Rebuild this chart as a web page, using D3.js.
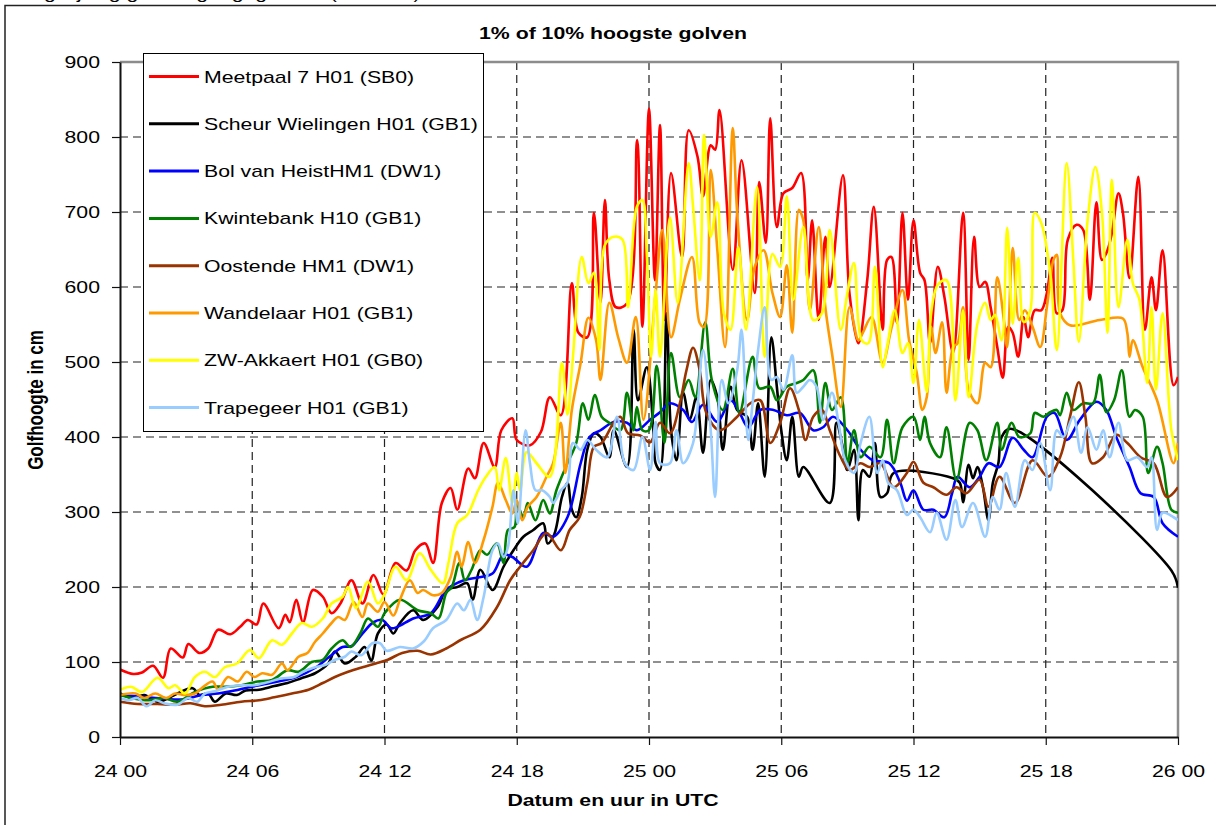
<!DOCTYPE html>
<html>
<head>
<meta charset="utf-8">
<script src="https://cdn.jsdelivr.net/npm/d3@7"></script>
<style>
  body { margin: 0; background: #fff; }
  text { font-family: "Liberation Sans", Arial, sans-serif; }
</style>
</head>
<body>
<div id="chart"></div>
<script>
// Data: [uren sinds 24 00, golfhoogte in cm]
var meetpaal7 = [[0,90],[0.6,84],[1,86],[1.5,95],[1.95,79],[2.3,118],[2.85,106],[3.1,124],[3.6,112],[4,118],[4.45,143],[5,137],[5.45,147],[5.8,156],[6.2,150],[6.5,178],[7.2,145],[7.5,163],[7.7,153],[8,183],[8.3,153],[8.75,196],[9.2,187],[9.6,165],[10,178],[10.5,209],[11,178],[11.5,216],[11.95,190],[12.5,232],[13,222],[13.4,249],[13.85,258],[14.2,232],[14.6,312],[15,332],[15.3,303],[15.8,358],[16.1,345],[16.5,392],[17,360],[17.3,409],[17.8,425],[18,396],[18.6,389],[19.1,407],[19.5,453],[20,429],[20.5,605],[20.8,539],[21.2,533],[21.5,699],[21.8,579],[22,716],[22.2,609],[22.5,573],[23,578],[23.46,796],[23.7,547],[24,838],[24.27,609],[24.5,816],[24.7,556],[25,752],[25.5,640],[25.8,809],[26.2,774],[26.45,721],[26.8,789],[27,783],[27.2,836],[27.8,623],[28.2,769],[28.8,592],[29,740],[29.3,659],[29.5,825],[29.8,680],[30.1,725],[30.5,732],[30.9,752],[31.2,609],[31.4,689],[31.7,556],[32,667],[32.2,600],[32.8,749],[33.1,590],[33.5,525],[33.9,609],[34.2,707],[34.6,543],[34.8,636],[35,640],[35.25,552],[35.5,699],[35.75,583],[36,689],[36.3,619],[36.5,609],[36.75,525],[37.1,627],[37.4,587],[37.8,512],[38.25,699],[38.5,503],[38.75,667],[39,600],[39.25,607],[39.5,573],[39.8,520],[40.05,479],[40.3,547],[40.5,539],[40.75,507],[41,560],[41.2,533],[41.5,569],[41.8,569],[42.05,592],[42.3,639],[42.5,565],[42.75,569],[43,663],[43.4,683],[43.7,676],[44,583],[44.3,713],[44.55,636],[44.8,649],[45,672],[45.3,725],[45.5,699],[45.8,612],[46.2,747],[46.5,543],[46.8,613],[47,569],[47.3,649],[47.8,469],[48,480]];

var scheurWielingen = [[0,58],[0.6,52],[1.1,56],[1.7,47],[2.2,52],[2.6,58],[3.3,65],[3.6,56],[4,58],[4.3,47],[4.8,58],[5.3,56],[5.7,62],[6.3,63],[7,68],[7.6,72],[8.2,78],[8.85,85],[9.45,98],[9.75,114],[10.2,98],[10.7,107],[11.1,120],[11.4,102],[11.7,138],[12.1,150],[12.4,138],[12.7,152],[13.3,169],[13.75,156],[14.4,173],[14.8,196],[15.3,200],[15.75,205],[16,183],[16.35,223],[16.9,196],[17.4,227],[17.85,249],[18.3,267],[18.75,276],[19.2,285],[19.4,258],[19.7,270],[20.05,320],[20.3,339],[20.5,303],[20.7,293],[20.95,320],[21.2,383],[21.5,405],[21.8,400],[22.2,373],[22.4,409],[23,360],[23.3,543],[23.5,449],[23.9,493],[24.2,409],[24.3,365],[24.5,356],[24.8,565],[25,409],[25.25,369],[25.55,459],[25.85,423],[26.15,453],[26.45,379],[26.8,476],[27.1,453],[27.35,383],[27.7,467],[28,436],[28.45,427],[28.7,383],[28.95,445],[29.25,347],[29.55,533],[29.8,467],[30,409],[30.25,369],[30.5,427],[30.8,347],[31,360],[32.2,312],[32.5,419],[32.75,392],[33,356],[33.3,383],[33.5,289],[33.7,356],[34,347],[34.25,392],[34.5,320],[34.8,325],[35.1,352],[37.8,345],[38.1,339],[38.25,313],[38.5,363],[38.7,345],[38.9,360],[39.15,333],[39.4,289],[39.6,339],[39.85,365],[40,400],[40.4,411],[47.7,222],[48,199]];

var bolVanHeist = [[0,56],[1.3,53],[2.8,50],[3.7,56],[4.45,58],[5.2,62],[5.8,66],[7,73],[8,80],[8.9,93],[9.5,107],[10.1,120],[10.5,121],[11,138],[11.5,153],[11.9,156],[12.3,145],[12.6,147],[13.3,158],[14.1,165],[14.8,196],[15.6,209],[16.3,213],[16.9,218],[17.4,243],[17.8,240],[18.45,227],[19.2,272],[19.65,267],[20.3,293],[20.9,365],[21.3,400],[21.8,409],[22.4,420],[23,419],[23.45,409],[24.05,423],[24.5,433],[24.95,445],[25.55,436],[25.95,420],[26.45,443],[27.1,420],[27.7,449],[28.1,433],[28.5,413],[29.05,436],[29.65,436],[30.25,429],[30.85,432],[31.45,409],[31.9,413],[32.35,427],[33,409],[33.6,383],[34.15,369],[34.9,365],[35.4,339],[35.7,315],[36,329],[36.45,303],[36.9,303],[37.4,293],[37.75,325],[38,347],[38.55,333],[39,347],[39.4,365],[39.9,360],[40.5,399],[41,383],[41.4,373],[42.05,427],[42.4,432],[42.95,396],[43.55,423],[44.3,447],[44.75,436],[45.2,400],[45.8,360],[46.3,325],[46.9,320],[47.3,285],[48,267]];

var kwintebank = [[0,56],[0.5,52],[1.3,49],[2,52],[2.6,47],[3.4,60],[4.2,67],[4.75,67],[5.5,69],[6.25,74],[6.9,76],[7.6,89],[8.1,87],[8.7,100],[9.2,103],[9.6,118],[10.1,129],[10.45,120],[10.9,138],[11.25,158],[11.7,147],[12,165],[12.7,183],[13.5,169],[14.1,165],[14.45,158],[14.8,192],[15.05,200],[15.4,232],[15.65,209],[15.95,223],[16.35,249],[16.65,243],[17.1,258],[17.4,232],[17.6,276],[17.9,280],[18,312],[18.3,293],[18.5,312],[18.85,289],[19.2,316],[19.5,298],[19.8,329],[20.3,365],[20.7,392],[21,445],[21.25,423],[21.55,456],[21.85,427],[22.2,419],[22.7,409],[23,459],[23.3,409],[23.45,440],[23.7,409],[24,409],[24.35,495],[24.7,392],[25,512],[25.4,453],[25.8,476],[26.1,453],[26.55,553],[26.85,476],[27.35,436],[27.8,491],[28.1,432],[28.7,507],[29,465],[29.5,467],[29.8,449],[30.25,467],[30.7,472],[31,476],[31.45,489],[31.75,419],[32,472],[32.3,436],[32.7,453],[33,365],[33.3,409],[33.6,373],[34,387],[34.5,373],[34.8,423],[35.1,365],[35.5,413],[36,427],[36.3,396],[36.5,427],[36.75,392],[37.2,373],[37.5,413],[37.95,343],[38.55,419],[38.9,409],[39.3,369],[39.8,419],[40,383],[40.45,419],[40.8,400],[41.3,405],[41.5,432],[41.9,427],[42.2,433],[42.5,436],[42.65,429],[42.95,459],[43.25,436],[43.7,445],[44.15,445],[44.45,483],[44.75,433],[45.1,449],[45.45,489],[45.8,427],[46.05,436],[46.4,427],[46.65,352],[47.05,387],[47.3,365],[47.7,303],[48,299]];

var oostende = [[0,47],[0.8,44],[1.7,44],[2.5,43],[3.2,45],[3.85,41],[4.6,43],[5.5,47],[6.3,49],[7,53],[7.8,58],[8.55,63],[9.2,72],[9.75,80],[10.35,87],[11,93],[11.6,98],[12.15,103],[12.8,112],[13.5,115],[14.1,110],[14.8,118],[15.5,130],[16.35,143],[17.1,173],[17.7,209],[18.15,227],[18.75,249],[19.35,272],[20,249],[20.4,276],[20.85,293],[21.2,339],[21.5,387],[21.85,392],[22.4,419],[22.7,427],[23.05,405],[23.6,402],[24.05,393],[24.5,419],[24.95,405],[25.4,445],[25.7,489],[26,519],[26.3,489],[26.6,432],[27.2,409],[28,427],[28.6,445],[29.05,449],[29.5,392],[29.95,419],[30.4,465],[30.8,436],[31.1,396],[31.45,427],[31.85,436],[32.2,409],[32.7,373],[33.1,356],[33.6,365],[34,360],[34.5,365],[35.1,333],[35.7,352],[36,367],[36.45,339],[36.9,333],[37.5,323],[37.95,333],[38.4,325],[39,343],[39.4,307],[39.9,347],[40.6,312],[41.4,369],[42.1,347],[42.65,373],[43.1,427],[43.5,473],[43.8,427],[44.1,365],[44.6,373],[45.2,403],[45.7,392],[46.3,373],[46.9,365],[47.5,320],[48,333]];

var wandelaar = [[0,56],[0.7,58],[1.1,52],[1.6,58],[2.1,52],[2.5,58],[2.95,56],[3.4,58],[3.7,65],[4.2,74],[4.45,63],[4.9,80],[5.35,74],[5.75,87],[6.1,80],[6.45,85],[6.9,83],[7.35,98],[7.6,89],[8.1,107],[8.5,112],[8.85,127],[9.2,138],[9.6,152],[9.9,160],[10.2,156],[10.6,180],[11,160],[11.25,178],[11.7,167],[12,180],[12.4,162],[12.7,183],[13.15,209],[13.5,192],[13.75,196],[14.2,189],[14.6,192],[15,213],[15.3,247],[15.5,227],[15.8,260],[16.1,232],[16.5,263],[16.9,307],[17.15,339],[17.5,316],[17.8,298],[18,316],[18.25,289],[18.5,307],[18.9,320],[19.35,347],[19.65,365],[20,419],[20.2,352],[20.5,436],[20.9,499],[21.25,559],[21.6,529],[21.8,476],[22.2,579],[22.6,533],[23,499],[23.4,560],[23.75,423],[24.3,592],[24.6,676],[25,533],[25.4,583],[25.95,640],[26.3,552],[26.5,547],[26.8,756],[27.1,649],[27.45,520],[27.8,812],[28,699],[28.45,556],[28.8,627],[29.2,649],[29.6,592],[29.95,560],[30.25,629],[30.5,539],[30.8,703],[31,689],[31.3,569],[31.7,680],[32,573],[32.3,512],[32.7,440],[33.1,573],[33.5,529],[33.7,539],[34.1,560],[34.6,499],[35,545],[35.5,596],[35.8,529],[36.15,485],[36.4,436],[36.6,453],[36.8,547],[37,512],[37.3,553],[37.5,459],[37.8,520],[38,525],[38.25,573],[38.5,463],[38.9,445],[39.25,499],[39.5,493],[39.8,613],[40.1,556],[40.25,520],[40.5,652],[40.8,556],[41.05,569],[41.4,547],[41.75,520],[42.05,573],[42.35,636],[42.5,643],[42.65,565],[43.1,549],[44.45,556],[45.5,558],[45.7,539],[45.8,507],[45.95,529],[46.4,493],[47.05,449],[47.8,365],[48,392]];

var zwAkkaert = [[0,63],[0.5,67],[1,60],[1.7,79],[2.2,65],[2.5,69],[2.95,58],[3.4,80],[3.85,87],[4.3,80],[4.75,93],[5.3,98],[5.9,116],[6.3,105],[6.9,129],[7.35,123],[7.8,138],[8.25,152],[8.7,147],[9.2,158],[9.6,178],[10.1,187],[10.35,200],[10.7,172],[11.25,207],[11.7,178],[12,190],[12.5,227],[13,209],[13.6,245],[14.1,223],[14.65,205],[14.9,232],[15.3,285],[15.75,296],[16.25,329],[16.6,347],[17,360],[17.2,329],[17.5,372],[17.8,312],[18,352],[18.15,329],[18.45,380],[18.9,365],[19.5,347],[20.05,499],[20.3,430],[20.55,507],[20.95,640],[21.25,605],[21.5,619],[21.75,516],[22,656],[22.4,667],[22.8,663],[23.05,573],[23.45,707],[23.7,716],[23.9,644],[24.1,507],[24.3,596],[24.5,507],[24.95,693],[25.3,579],[25.8,765],[26,707],[26.3,609],[26.5,803],[26.8,667],[27.1,713],[27.4,565],[27.7,543],[28.05,653],[28.4,543],[28.9,733],[29.25,507],[29.6,644],[29.95,627],[30.25,721],[30.55,583],[31,680],[31.45,556],[31.85,565],[32.2,676],[32.7,543],[33,592],[33.3,632],[33.65,529],[33.95,525],[34.25,627],[34.6,493],[34.8,520],[35.15,569],[35.5,512],[35.75,525],[36,472],[36.25,556],[36.6,460],[36.8,565],[37.1,603],[37.5,609],[37.9,449],[38.25,569],[38.5,453],[38.9,551],[39.25,579],[39.5,556],[39.7,563],[40,529],[40.25,679],[40.5,551],[40.75,639],[41,553],[41.3,569],[41.5,699],[41.8,685],[42.2,619],[42.5,516],[42.95,765],[43.25,636],[43.5,527],[43.9,689],[44.25,760],[44.55,699],[44.8,539],[45,743],[45.3,573],[45.7,663],[45.95,605],[46.25,583],[46.6,472],[46.8,573],[47,463],[47.3,565],[47.7,409],[48,369]];

var trapegeer = [[0,52],[0.4,49],[0.8,52],[1.2,41],[1.6,49],[2,45],[2.6,43],[3.1,52],[3.5,47],[3.85,58],[4.3,61],[4.9,67],[5.5,69],[6.1,69],[6.7,73],[7.3,78],[7.9,80],[8.3,87],[8.85,93],[9.3,96],[9.75,103],[10.2,107],[10.5,114],[10.95,109],[11.45,125],[11.8,125],[12.1,115],[12.7,120],[13.3,118],[13.8,128],[14.2,145],[14.8,156],[15.3,178],[15.6,169],[15.9,183],[16.2,156],[16.5,187],[16.9,249],[17.15,258],[17.4,240],[17.6,253],[17.85,329],[18.05,285],[18.4,409],[18.6,365],[18.85,329],[19.15,329],[19.5,320],[19.65,312],[20,329],[20.3,339],[20.55,392],[20.9,383],[21.2,396],[21.6,383],[22.1,373],[22.55,427],[22.9,365],[23.3,356],[23.7,400],[24.05,356],[24.3,420],[24.5,365],[24.95,365],[25.25,409],[25.55,365],[26,392],[26.45,516],[26.8,409],[27,320],[27.3,476],[27.6,445],[28,489],[28.2,543],[28.5,396],[28.7,445],[28.95,516],[29.25,573],[29.55,476],[29.8,480],[30.1,463],[30.5,509],[30.7,459],[31,467],[31.3,476],[31.6,467],[31.9,423],[32.3,459],[32.6,419],[32.9,369],[33.3,352],[33.6,392],[34,427],[34.35,352],[34.6,369],[34.85,339],[35.25,329],[35.7,296],[36,303],[36.3,293],[36.75,273],[37.05,299],[37.5,263],[37.9,316],[38.2,280],[38.7,312],[39.25,267],[39.6,320],[39.9,303],[40.2,352],[40.6,307],[41.05,369],[41.4,356],[41.75,392],[42.2,329],[42.5,409],[42.8,400],[43.25,427],[43.6,379],[43.9,413],[44.3,383],[44.6,409],[44.9,373],[45.3,419],[45.7,369],[46.15,373],[46.6,360],[46.8,373],[47.05,276],[47.3,299],[47.8,293],[48,289]];

var seriesData = [meetpaal7, scheurWielingen, bolVanHeist, kwintebank, oostende, wandelaar, zwAkkaert, trapegeer];
var seriesNames = ["Meetpaal 7 H01 (SB0)", "Scheur Wielingen H01 (GB1)", "Bol van HeistHM1 (DW1)", "Kwintebank H10 (GB1)",
                   "Oostende HM1 (DW1)", "Wandelaar H01 (GB1)", "ZW-Akkaert H01 (GB0)", "Trapegeer H01 (GB1)"];
var seriesColors = ["#ff0000", "#000000", "#0000ff", "#008000", "#993300", "#ff9900", "#ffff00", "#99ccff"];

var xTickHours = [0, 6, 12, 18, 24, 30, 36, 42, 48];
var xTickLabels = ["24 00", "24 06", "24 12", "24 18", "25 00", "25 06", "25 12", "25 18", "26 00"];
var yTicks = [0, 100, 200, 300, 400, 500, 600, 700, 800, 900];

// layout (plotTop, not "top": window.top is read-only)
var width = 1216, height = 825;
var plotLeft = 120, plotRight = 1178, plotTop = 62, plotBottom = 737;
var stretch = " scale(1.25,1)"; // the original picture is wider than tall
var fontSize = "17px";

var svg = d3.select("#chart").append("svg")
    .attr("width", width)
    .attr("height", height)
    .style("background-color", "white");

// chart border
svg.append("rect")
    .attr("x", 5).attr("y", 5.5)
    .attr("width", 1300).attr("height", 900)
    .attr("fill", "none")
    .attr("stroke", "#222")
    .attr("stroke-width", 1.5);

// heading above the chart, only its descenders show
svg.append("text")
    .attr("transform", "translate(12,-1)" + stretch)
    .style("font-size", "17px")
    .text("Vergelijking golfhoogte gegevens (meetnet)");

// Scales
var xScale = d3.scaleLinear().domain([0, 48]).range([plotLeft, plotRight]);
var yScale = d3.scaleLinear().domain([0, 900]).range([plotBottom, plotTop]);

// Grid
svg.append("g").selectAll("line")
    .data(yTicks.slice(1))
    .enter().append("line")
    .attr("x1", plotLeft).attr("x2", plotRight)
    .attr("y1", d => yScale(d)).attr("y2", d => yScale(d))
    .attr("stroke", "#222")
    .attr("stroke-width", 1.2)
    .attr("stroke-dasharray", "8,5");

svg.append("g").selectAll("line")
    .data(xTickHours.slice(1, -1))
    .enter().append("line")
    .attr("x1", d => xScale(d)).attr("x2", d => xScale(d))
    .attr("y1", plotTop).attr("y2", plotBottom)
    .attr("stroke", "#222")
    .attr("stroke-width", 1.2)
    .attr("stroke-dasharray", "8,5");

// plot area border (top and right)
svg.append("path")
    .attr("d", "M" + plotLeft + "," + plotTop + "H" + plotRight + "V" + plotBottom)
    .attr("fill", "none")
    .attr("stroke", "#8c8c8c")
    .attr("stroke-width", 2.5);

// Lines
svg.append("clipPath").attr("id", "plot")
    .append("rect")
    .attr("x", plotLeft).attr("y", plotTop - 2)
    .attr("width", plotRight - plotLeft).attr("height", plotBottom - plotTop + 2);

var line = d3.line()
    .x(d => xScale(d[0]))
    .y(d => yScale(d[1]))
    .curve(d3.curveCatmullRom.alpha(0.5));

svg.append("g")
    .attr("clip-path", "url(#plot)")
    .selectAll("path")
    .data(seriesData)
    .enter().append("path")
    .attr("d", d => line(d))
    .attr("fill", "none")
    .attr("stroke", (d, i) => seriesColors[i])
    .attr("stroke-width", 2.6)
    .attr("stroke-linejoin", "round");

// Axes
var yAxis = svg.append("g")
    .attr("transform", "translate(" + plotLeft + ",0)")
    .call(d3.axisLeft(yScale).tickValues(yTicks).tickSize(8).tickPadding(12).tickSizeOuter(0));

yAxis.selectAll("text")
    .attr("x", null)
    .attr("transform", "translate(-20,0)" + stretch)
    .style("font-size", fontSize)
    .style("font-family", "'Liberation Sans', Arial, sans-serif")
    .attr("fill", "#000");

var xAxis = svg.append("g")
    .attr("transform", "translate(0," + plotBottom + ")")
    .call(d3.axisBottom(xScale).tickValues(xTickHours)
        .tickFormat((d, i) => xTickLabels[i])
        .tickSize(8).tickPadding(20).tickSizeOuter(0));

xAxis.selectAll("text")
    .attr("y", null)
    .attr("transform", "translate(0,28)" + stretch)
    .style("font-size", fontSize)
    .style("font-family", "'Liberation Sans', Arial, sans-serif")
    .attr("fill", "#000");

[xAxis, yAxis].forEach(function(ax) {
    ax.select(".domain").attr("stroke", "#111").attr("stroke-width", 2);
    ax.selectAll(".tick line").attr("stroke", "#111").attr("stroke-width", 1.2);
});

// Title
svg.append("text")
    .attr("transform", "translate(613,39)" + stretch)
    .attr("text-anchor", "middle")
    .style("font-size", fontSize)
    .style("font-weight", "bold")
    .text("1% of 10% hoogste golven");

// X axis text
svg.append("text")
    .attr("transform", "translate(613,806)" + stretch)
    .attr("text-anchor", "middle")
    .style("font-size", fontSize)
    .style("font-weight", "bold")
    .text("Datum en uur in UTC");

// Y axis text
svg.append("text")
    .attr("transform", "translate(43,400)" + stretch + " rotate(-90)")
    .attr("text-anchor", "middle")
    .style("font-size", fontSize)
    .style("font-weight", "bold")
    .text("Golfhoogte in cm");

// Legend
var legend = svg.append("g");
legend.append("rect")
    .attr("x", 143.5).attr("y", 53.5)
    .attr("width", 340).attr("height", 378)
    .attr("fill", "white")
    .attr("stroke", "#000")
    .attr("stroke-width", 1);

var rows = legend.selectAll("g.row")
    .data(seriesNames)
    .enter().append("g")
    .attr("class", "row")
    .attr("transform", (d, i) => "translate(0," + (76.5 + i * 47.3) + ")");

rows.append("line")
    .attr("x1", 149).attr("x2", 199)
    .attr("y1", 0).attr("y2", 0)
    .attr("stroke", (d, i) => seriesColors[i])
    .attr("stroke-width", 3);

rows.append("text")
    .attr("transform", "translate(204,6)" + stretch)
    .style("font-size", fontSize)
    .text(d => d);
</script>
</body>
</html>
